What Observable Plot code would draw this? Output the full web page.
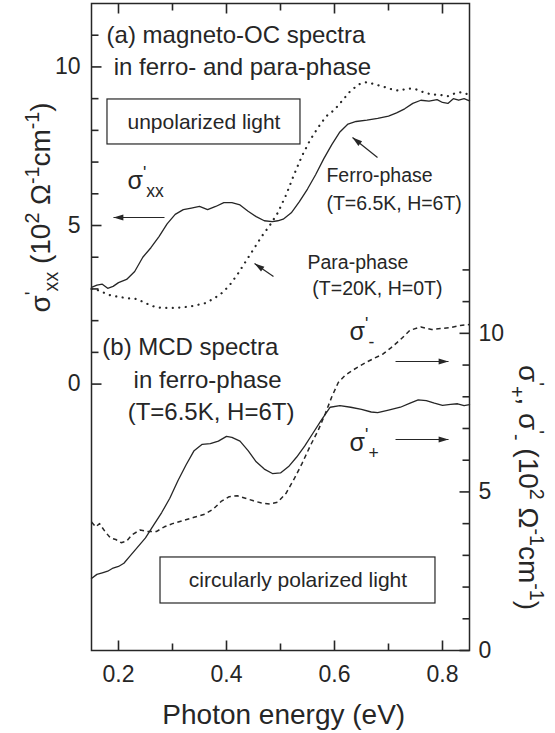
<!DOCTYPE html>
<html><head><meta charset="utf-8">
<script src="https://cdn.jsdelivr.net/npm/d3@7"></script>
<script src="https://cdn.jsdelivr.net/npm/@observablehq/plot@0.6"></script>
<style>body{margin:0;background:#fff}</style>
</head><body><div id="chart"></div>
<script>
// ---------- data ----------
// (a) sigma'_xx, left axis
const ferroE  = [0.150,0.160,0.170,0.180,0.190,0.200,0.215,0.230,0.245,0.260,0.275,0.290,0.305,0.320,0.335,0.350,0.365,0.380,0.395,0.410,0.425,0.440,0.455,0.470,0.485,0.495,0.505,0.520,0.535,0.550,0.565,0.580,0.595,0.610,0.625,0.640,0.660,0.680,0.700,0.715,0.730,0.745,0.760,0.775,0.790,0.800,0.810,0.820,0.830,0.840,0.850];
const ferroXX = [3.05,3.12,3.15,3.02,3.08,3.20,3.30,3.55,4.00,4.30,4.65,5.05,5.35,5.50,5.55,5.60,5.50,5.60,5.72,5.72,5.65,5.45,5.28,5.15,5.12,5.15,5.20,5.40,5.75,6.15,6.60,7.10,7.55,7.95,8.20,8.28,8.32,8.38,8.45,8.55,8.68,8.85,8.95,8.92,8.97,8.88,8.85,9.00,8.95,9.00,8.93];
const paraE   = [0.150,0.165,0.180,0.200,0.220,0.235,0.250,0.265,0.280,0.300,0.320,0.340,0.360,0.375,0.390,0.405,0.420,0.435,0.450,0.465,0.480,0.495,0.510,0.525,0.540,0.555,0.570,0.585,0.600,0.615,0.630,0.645,0.660,0.675,0.690,0.705,0.720,0.735,0.750,0.765,0.780,0.795,0.810,0.825,0.835,0.850];
const paraXX  = [3.00,2.95,2.82,2.75,2.70,2.68,2.55,2.45,2.40,2.40,2.42,2.47,2.55,2.68,2.85,3.10,3.45,3.85,4.25,4.65,5.00,5.40,5.95,6.60,7.20,7.70,8.10,8.45,8.65,8.95,9.25,9.45,9.52,9.45,9.38,9.30,9.25,9.32,9.30,9.20,9.13,9.12,9.08,9.18,9.20,9.12];
// (b) sigma'_+ and sigma'_-, right axis
const plusE     = [0.150,0.160,0.170,0.180,0.190,0.200,0.210,0.220,0.235,0.250,0.265,0.280,0.295,0.310,0.325,0.340,0.355,0.370,0.385,0.400,0.410,0.425,0.440,0.455,0.470,0.485,0.500,0.515,0.530,0.545,0.560,0.575,0.592,0.610,0.630,0.650,0.668,0.680,0.700,0.722,0.740,0.755,0.770,0.785,0.800,0.815,0.828,0.840,0.850];
const sigmaPlus = [2.27,2.40,2.45,2.50,2.60,2.65,2.75,2.95,3.25,3.55,3.95,4.35,4.80,5.35,5.85,6.30,6.50,6.52,6.60,6.75,6.72,6.60,6.30,5.95,5.72,5.58,5.60,5.80,6.10,6.45,6.85,7.25,7.67,7.72,7.67,7.60,7.52,7.50,7.58,7.67,7.80,7.90,7.88,7.80,7.73,7.76,7.78,7.72,7.75];
const minusE     = [0.150,0.158,0.165,0.175,0.185,0.195,0.205,0.215,0.225,0.240,0.255,0.270,0.285,0.300,0.320,0.340,0.360,0.375,0.390,0.405,0.420,0.435,0.450,0.465,0.480,0.495,0.510,0.525,0.540,0.555,0.570,0.583,0.595,0.607,0.620,0.635,0.660,0.690,0.705,0.722,0.740,0.760,0.780,0.796,0.815,0.833,0.850];
const sigmaMinus = [4.05,3.90,4.00,3.75,3.55,3.50,3.40,3.45,3.65,3.80,3.75,3.75,3.90,4.00,4.10,4.20,4.30,4.45,4.70,4.85,4.88,4.80,4.72,4.65,4.62,4.68,4.95,5.40,5.90,6.45,6.95,7.47,8.00,8.45,8.68,8.85,9.10,9.35,9.55,9.80,10.10,10.20,10.12,10.15,10.18,10.25,10.28];

// ticks
const xMajor = [0.2,0.4,0.6,0.8];
const xMinor = [0.3,0.5,0.7];
const leftMajor = [0,5,10];
const leftMinor = [1,2,3,4,6,7,8,9,11];
const rightMajor = [0,5,10];
const rightMinor = [1,2,3,4,6,7,8,9,11,12];

// ---------- layout ----------
const W = 555, H = 733, ML = 91, MR = 86, MT = 3, MB = 83;
const FW = W - ML - MR, FH = H - MT - MB;
const X_DOMAIN = [0.15, 0.85], Y_DOMAIN = [-8.4, 12.0];
const OFF = 8.4; // right axis zero sits at left-axis value -8.4
const PXX = FW / (X_DOMAIN[1] - X_DOMAIN[0]);
const PXY = FH / (Y_DOMAIN[1] - Y_DOMAIN[0]);
const INK = "#262626";
const FONT = "'Liberation Sans', Arial, Helvetica, sans-serif";
const MAJ = 10, MIN = 7; // tick lengths in px

const rows = (E, V) => E.map((e, i) => ({e, v: V[i]}));

// annotations (positions in data units of the left axis)
const notesStart = [
  {t: "(a) magneto-OC spectra", x: 0.178, y: 11.0, s: 24},
  {t: "in ferro- and para-phase", x: 0.191, y: 10.0, s: 24},
  {t: "σ^{'}_{xx}", x: 0.2167, y: 6.39, s: 25},
  {t: "Ferro-phase", x: 0.585, y: 6.58, s: 19.5},
  {t: "(T=6.5K, H=6T)", x: 0.585, y: 5.70, s: 19.5},
  {t: "Para-phase", x: 0.550, y: 3.83, s: 19.5},
  {t: "(T=20K, H=0T)", x: 0.559, y: 3.01, s: 19.5},
  {t: "(b) MCD spectra", x: 0.170, y: 1.15, s: 24},
  {t: "in ferro-phase", x: 0.228, y: 0.11, s: 24},
  {t: "(T=6.5K, H=6T)", x: 0.217, y: -0.90, s: 24},
  {t: "σ^{'}_{-}", x: 0.628, y: 1.64, s: 25},
  {t: "σ^{'}_{+}", x: 0.628, y: -1.87, s: 25}
];
const boxes = [
  {t: "unpolarized light", x1: 0.1796, x2: 0.537, y1: 7.555, y2: 8.974},
  {t: "circularly polarized light", x1: 0.2778, x2: 0.787, y1: -6.918, y2: -5.467}
];
const arrows = [
  {x1: 0.2852, y1: 5.253, x2: 0.1907, y2: 5.253},
  {x1: 0.6796, y1: 7.145, x2: 0.6333, y2: 7.775},
  {x1: 0.4870, y1: 3.393, x2: 0.4519, y2: 3.802},
  {x1: 0.7130, y1: 0.713, x2: 0.8111, y2: 0.713},
  {x1: 0.7130, y1: -1.747, x2: 0.8111, y2: -1.747}
];
const axisTitles = [
  {t: "σ^{'}_{xx} (10^{2} Ω^{-1}cm^{-1})", x: 0.0565, y: 5.57, r: -90},
  {t: "σ^{'}_{+}, σ^{'}_{-} (10^{2} Ω^{-1}cm^{-1})", x: 0.9574, y: -3.26, r: 90},
  {t: "Photon energy (eV)", x: 0.506, y: -10.42, r: 0}
];

const headAngle = d => {
  const sx = (d.x2 - d.x1) * PXX, sy = -(d.y2 - d.y1) * PXY;
  return Math.atan2(sx, -sy) * 180 / Math.PI;
};
const headSymbol = {draw(ctx, size) {
  const r = Math.sqrt(size / Math.PI);
  ctx.moveTo(0, 0); ctx.lineTo(-0.9 * r, 3 * r); ctx.lineTo(0.9 * r, 3 * r); ctx.closePath();
}};

const X0 = X_DOMAIN[0], X1 = X_DOMAIN[1], Y0 = Y_DOMAIN[0], Y1 = Y_DOMAIN[1];
// tick segments (start/end in data units, length converted from px)
const tickSegs = [
  ...leftMajor.map(v => ({x1: X0, x2: X0 + MAJ / PXX, y1: v, y2: v})),
  ...leftMinor.map(v => ({x1: X0, x2: X0 + MIN / PXX, y1: v, y2: v})),
  ...rightMajor.map(v => ({x1: X1 - MAJ / PXX, x2: X1, y1: v - OFF, y2: v - OFF})),
  ...rightMinor.map(v => ({x1: X1 - MIN / PXX, x2: X1, y1: v - OFF, y2: v - OFF})),
  ...xMajor.map(v => ({x1: v, x2: v, y1: Y0, y2: Y0 + MAJ / PXY})),
  ...xMinor.map(v => ({x1: v, x2: v, y1: Y0, y2: Y0 + MIN / PXY})),
  ...xMajor.map(v => ({x1: v, x2: v, y1: Y1 - MAJ / PXY, y2: Y1})),
  ...xMinor.map(v => ({x1: v, x2: v, y1: Y1 - MIN / PXY, y2: Y1}))
];

const chart = Plot.plot({
  width: W, height: H,
  marginLeft: ML, marginRight: MR, marginTop: MT, marginBottom: MB,
  x: {domain: X_DOMAIN, axis: null},
  y: {domain: Y_DOMAIN, axis: null},
  style: {fontFamily: FONT, background: "#fff", color: INK},
  marks: [
    Plot.frame({stroke: INK, strokeWidth: 1.5}),
    // inward ticks on all four sides
    Plot.link(tickSegs, {x1: "x1", y1: "y1", x2: "x2", y2: "y2", stroke: INK, strokeWidth: 1.6, strokeLinecap: "butt"}),
    // tick labels
    Plot.text(leftMajor, {frameAnchor: "left", y: d => d, text: d => String(d), dx: -11, textAnchor: "end", fontSize: 23, fill: INK}),
    Plot.text(rightMajor, {frameAnchor: "right", y: d => d - OFF, text: d => String(d), dx: 9, textAnchor: "start", fontSize: 23, fill: INK}),
    Plot.text(xMajor, {frameAnchor: "bottom", x: d => d, text: d => String(d), dy: 15, lineAnchor: "top", fontSize: 23, fill: INK}),
    // curves
    Plot.line(rows(ferroE, ferroXX), {x: "e", y: "v", stroke: INK, strokeWidth: 1.3}),
    Plot.line(rows(paraE, paraXX), {x: "e", y: "v", stroke: INK, strokeWidth: 2.2, strokeDasharray: "0.1,6.4", strokeLinecap: "round"}),
    Plot.line(rows(plusE, sigmaPlus), {x: "e", y: d => d.v - OFF, stroke: INK, strokeWidth: 1.3}),
    Plot.line(rows(minusE, sigmaMinus), {x: "e", y: d => d.v - OFF, stroke: INK, strokeWidth: 1.5, strokeDasharray: "4.5,3.5", strokeLinecap: "butt"}),
    // boxes
    Plot.rect(boxes, {x1: "x1", x2: "x2", y1: "y1", y2: "y2", fill: "none", stroke: INK, strokeWidth: 1.2}),
    Plot.text(boxes, {x: d => (d.x1 + d.x2) / 2, y: d => (d.y1 + d.y2) / 2, text: "t", fontSize: 21, fill: INK}),
    // annotations
    Plot.text(notesStart, {x: "x", y: "y", text: "t", fontSize: "s", textAnchor: "start", fill: INK}),
    Plot.link(arrows, {x1: "x1", y1: "y1", x2: "x2", y2: "y2", stroke: INK, strokeWidth: 1.2}),
    Plot.dot(arrows, {x: "x2", y: "y2", r: 3.3, symbol: headSymbol, rotate: headAngle, fill: INK, stroke: "none"}),
    // axis titles
    Plot.text(axisTitles.filter(d => d.r === -90), {x: "x", y: "y", text: "t", rotate: -90, fontSize: 28, fill: INK}),
    Plot.text(axisTitles.filter(d => d.r === 90), {x: "x", y: "y", text: "t", rotate: 90, fontSize: 28, fill: INK}),
    Plot.text(axisTitles.filter(d => d.r === 0), {x: "x", y: "y", text: "t", fontSize: 28, fill: INK})
  ]
});
document.getElementById("chart").appendChild(chart);

// turn _{..} and ^{..} into real sub/superscript tspans
function richify(root) {
  root.querySelectorAll("text").forEach(el => {
    const s = el.textContent;
    if (!/[_^]\{/.test(s)) return;
    const fs = parseFloat(getComputedStyle(el).fontSize) || 20;
    const re = /([_^])\{([^}]*)\}|([^_^]+)/g;
    const parts = [];
    let m;
    while ((m = re.exec(s))) parts.push(m[1] ? {t: m[2], k: m[1]} : {t: m[3], k: ""});
    el.textContent = "";
    let cur = 0;
    for (const p of parts) {
      const ts = document.createElementNS("http://www.w3.org/2000/svg", "tspan");
      const target = p.k === "_" ? 0.3 * fs : p.k === "^" ? -0.4 * fs : 0;
      ts.setAttribute("dy", (target - cur).toFixed(2));
      cur = target;
      if (p.k) ts.setAttribute("font-size", (0.7 * fs).toFixed(1));
      ts.textContent = p.t;
      el.appendChild(ts);
    }
  });
}
richify(chart);
</script>
</body></html>
